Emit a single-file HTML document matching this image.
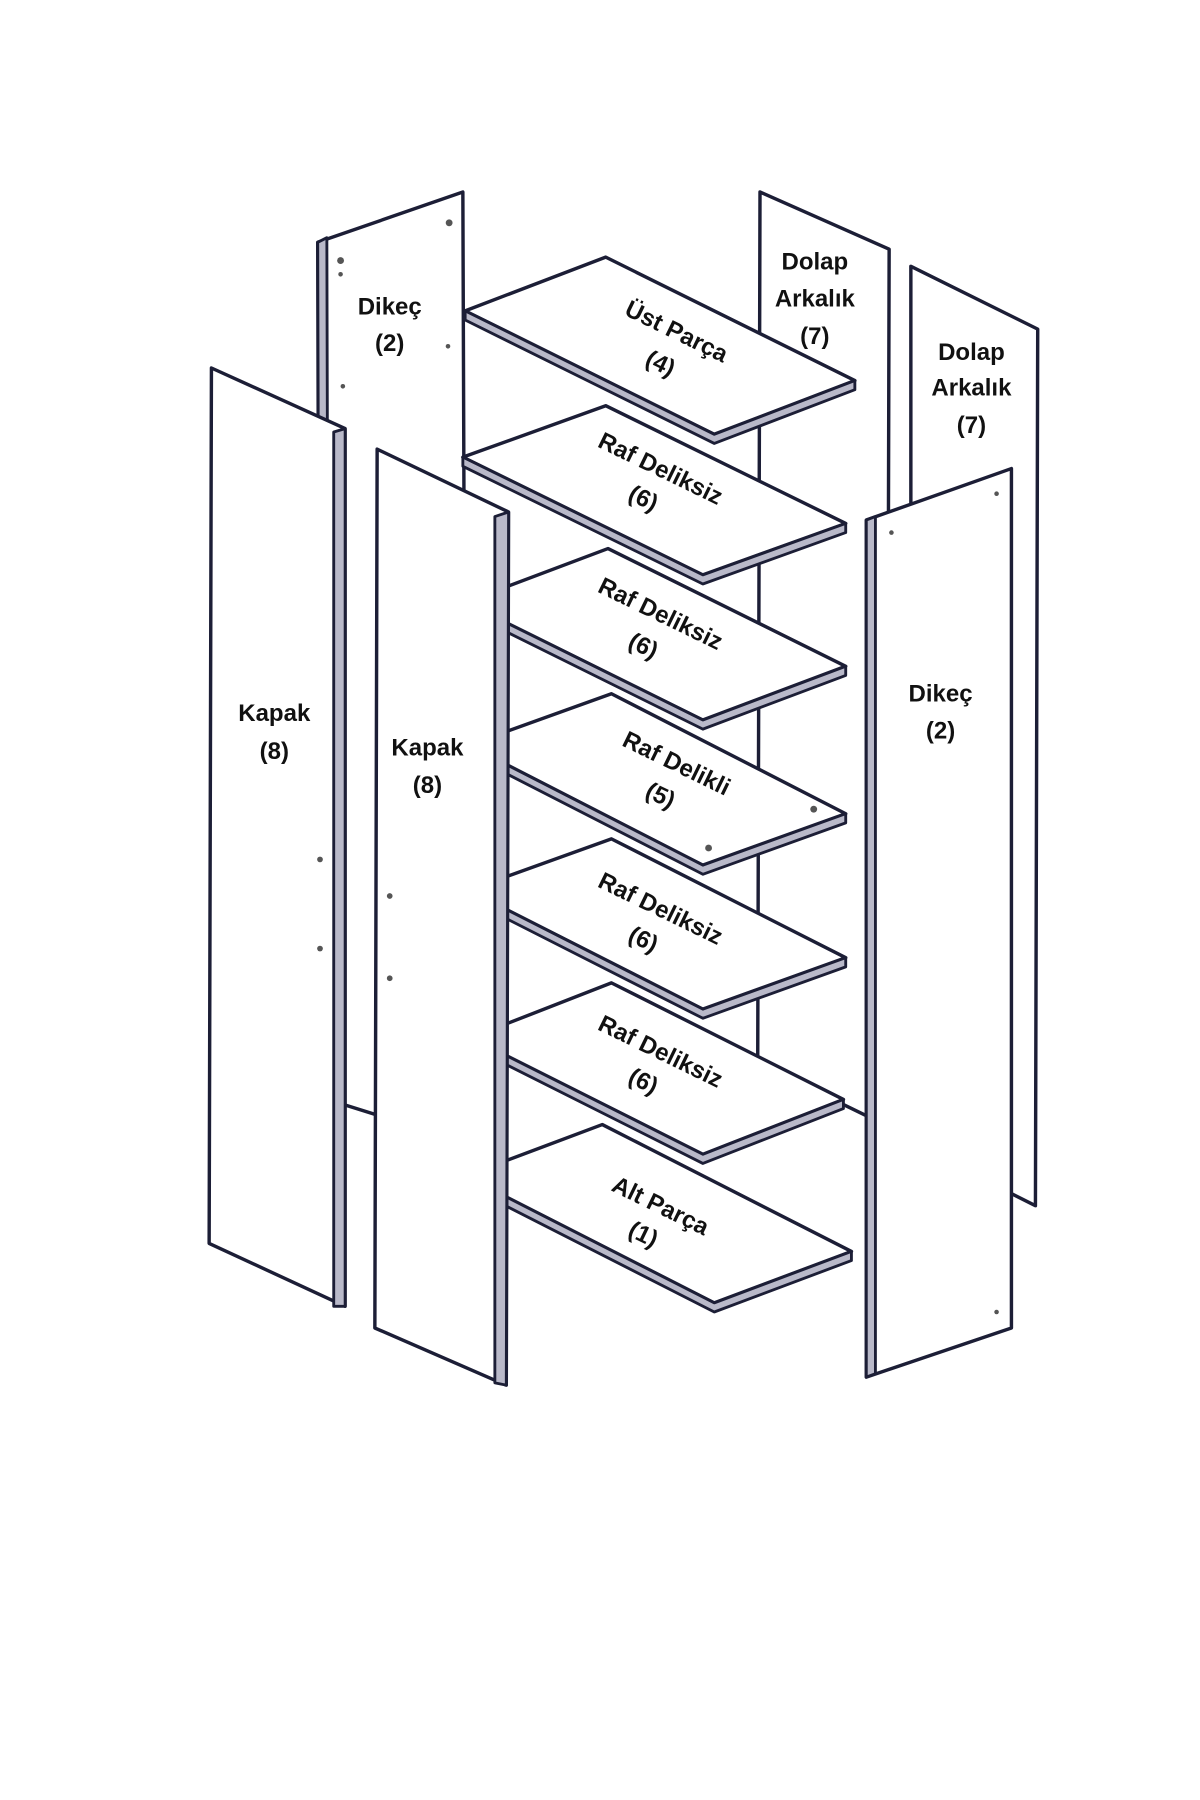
<!DOCTYPE html>
<html><head><meta charset="utf-8"><style>
html,body{margin:0;padding:0;background:#fff;}
svg{display:block;}
text{font-family:"Liberation Sans",sans-serif;font-weight:bold;font-size:21px;fill:#111;text-anchor:middle;}
.f{fill:#fff;stroke:#1c1e36;stroke-width:3;stroke-linejoin:round;}
.e{fill:#b9b9c9;stroke:#1c1e36;stroke-width:2.5;stroke-linejoin:round;}
.d{fill:#555;}
</style></head><body>
<svg width="1200" height="1800" viewBox="0 0 1050 1575" xmlns="http://www.w3.org/2000/svg">
<!-- back left dikeç -->
<polygon class="f" points="278,212 405,168 408,1000 280,960"/>
<polygon class="e" points="278,212 286,208 288,958 280,960"/>
<circle class="d" cx="298" cy="228" r="3"/><circle class="d" cx="298" cy="240" r="2"/><circle class="d" cx="393" cy="195" r="3"/><circle class="d" cx="392" cy="303" r="2"/><circle class="d" cx="300" cy="338" r="2"/>
<!-- arkalık panels -->
<polygon class="f" points="665,168 778,218 776,985 663,930"/>
<polygon class="f" points="797,233 908,288 906,1055 797,1000"/>
<!-- shelves -->
<polygon class="f" points="407,272 530,225 748,333 625,380"/>
<polygon class="e" points="407,272 625,380 748,333 748,341 625,388 407,280"/>
<polygon class="f" points="405,400 530,355 740,458 615,503"/>
<polygon class="e" points="405,400 615,503 740,458 740,466 615,511 405,408"/>
<polygon class="f" points="407,527 532,480 740,583 615,630"/>
<polygon class="e" points="407,527 615,630 740,583 740,591 615,638 407,535"/>
<polygon class="f" points="410,652 535,607 740,712 615,757"/>
<polygon class="e" points="410,652 615,757 740,712 740,720 615,765 410,660"/>
<circle class="d" cx="620" cy="742" r="3"/><circle class="d" cx="712" cy="708" r="3"/>
<polygon class="f" points="410,779 535,734 740,838 615,883"/>
<polygon class="e" points="410,779 615,883 740,838 740,846 615,891 410,787"/>
<polygon class="f" points="412,908 535,860 738,962 615,1010"/>
<polygon class="e" points="412,908 615,1010 738,962 738,970 615,1018 412,916"/>
<polygon class="f" points="407,1029 527,984 745,1095 625,1140"/>
<polygon class="e" points="407,1029 625,1140 745,1095 745,1103 625,1148 407,1037"/>
<!-- kapak 1 -->
<polygon class="f" points="185,322 302,375 302,1143 183,1088"/>
<polygon class="e" points="292,378 302,375 302,1143 292,1143"/>
<circle class="d" cx="280" cy="752" r="2.5"/><circle class="d" cx="280" cy="830" r="2.5"/>
<!-- kapak 2 -->
<polygon class="f" points="330,393 445,448 443,1212 328,1162"/>
<polygon class="e" points="433,452 445,448 443,1212 433,1210"/>
<circle class="d" cx="341" cy="784" r="2.5"/><circle class="d" cx="341" cy="856" r="2.5"/>
<!-- right dikeç -->
<polygon class="f" points="758,455 885,410 885,1162 758,1205"/>
<polygon class="e" points="758,455 766,452 766,1202 758,1205"/>
<circle class="d" cx="780" cy="466" r="2"/><circle class="d" cx="872" cy="432" r="2"/><circle class="d" cx="872" cy="1148" r="2"/>
<!-- labels -->
<text x="341" y="275">Dikeç</text><text x="341" y="307">(2)</text>
<text x="713" y="236">Dolap</text><text x="713" y="268">Arkalık</text><text x="713" y="301">(7)</text>
<text x="850" y="315">Dolap</text><text x="850" y="346">Arkalık</text><text x="850" y="379">(7)</text>
<text x="240" y="631">Kapak</text><text x="240" y="664">(8)</text>
<text x="374" y="661">Kapak</text><text x="374" y="694">(8)</text>
<text x="823" y="614">Dikeç</text><text x="823" y="646">(2)</text>
<g transform="rotate(26 592 290)"><text x="592" y="297">Üst Parça</text></g>
<g transform="rotate(26 578 318)"><text x="578" y="325">(4)</text></g>
<g transform="rotate(26 578 410)"><text x="578" y="417">Raf Deliksiz</text></g>
<g transform="rotate(26 563 436)"><text x="563" y="443">(6)</text></g>
<g transform="rotate(26 578 537)"><text x="578" y="544">Raf Deliksiz</text></g>
<g transform="rotate(26 563 565)"><text x="563" y="572">(6)</text></g>
<g transform="rotate(26 592 668)"><text x="592" y="675">Raf Delikli</text></g>
<g transform="rotate(26 578 696)"><text x="578" y="703">(5)</text></g>
<g transform="rotate(26 578 795)"><text x="578" y="802">Raf Deliksiz</text></g>
<g transform="rotate(26 563 822)"><text x="563" y="829">(6)</text></g>
<g transform="rotate(26 578 920)"><text x="578" y="927">Raf Deliksiz</text></g>
<g transform="rotate(26 563 946)"><text x="563" y="953">(6)</text></g>
<g transform="rotate(26 578 1055)"><text x="578" y="1062">Alt Parça</text></g>
<g transform="rotate(26 563 1080)"><text x="563" y="1087">(1)</text></g>
</svg>
</body></html>
